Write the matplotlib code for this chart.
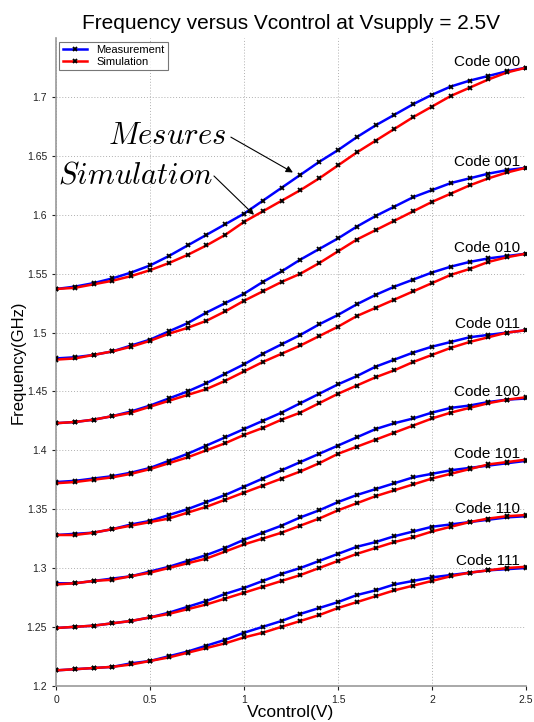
import numpy as np
import matplotlib
matplotlib.use("Agg")
import matplotlib.pyplot as plt

plt.rcParams['font.family'] = ['Liberation Sans', 'DejaVu Sans']
plt.rcParams['mathtext.fontset'] = 'cm'

# control voltage (V), one sample every 0.1 V
vcontrol = [0.0, 0.1, 0.2, 0.3, 0.4, 0.5, 0.6, 0.7, 0.8, 0.9, 1.0, 1.1, 1.2,
            1.3, 1.4, 1.5, 1.6, 1.7, 1.8, 1.9, 2.0, 2.1, 2.2, 2.3, 2.4, 2.5]

codes = ['000', '001', '010', '011', '100', '101', '110', '111']

# frequency (GHz), measured
meas_000 = [1.537, 1.539, 1.542, 1.546, 1.551, 1.557, 1.565, 1.574, 1.583, 1.592, 1.601, 1.612, 1.623,
            1.634, 1.645, 1.655, 1.666, 1.676, 1.685, 1.694, 1.702, 1.709, 1.714, 1.718, 1.722, 1.725]
meas_001 = [1.478, 1.479, 1.481, 1.484, 1.489, 1.494, 1.501, 1.508, 1.517, 1.525, 1.533, 1.543, 1.552,
            1.562, 1.571, 1.580, 1.590, 1.599, 1.607, 1.615, 1.621, 1.627, 1.631, 1.635, 1.638, 1.640]
meas_010 = [1.423, 1.424, 1.426, 1.429, 1.433, 1.438, 1.444, 1.450, 1.457, 1.465, 1.473, 1.482, 1.490,
            1.498, 1.507, 1.515, 1.524, 1.532, 1.539, 1.545, 1.551, 1.556, 1.560, 1.563, 1.565, 1.567]
meas_011 = [1.373, 1.374, 1.376, 1.378, 1.381, 1.385, 1.391, 1.397, 1.404, 1.411, 1.418, 1.425, 1.432,
            1.440, 1.448, 1.456, 1.463, 1.471, 1.477, 1.483, 1.488, 1.492, 1.496, 1.498, 1.500, 1.502]
meas_100 = [1.328, 1.329, 1.330, 1.333, 1.337, 1.340, 1.345, 1.350, 1.356, 1.362, 1.369, 1.376, 1.383,
            1.390, 1.397, 1.404, 1.411, 1.418, 1.423, 1.427, 1.432, 1.436, 1.438, 1.441, 1.443, 1.444]
meas_101 = [1.287, 1.287, 1.289, 1.291, 1.293, 1.297, 1.301, 1.306, 1.311, 1.317, 1.324, 1.330, 1.336,
            1.343, 1.349, 1.356, 1.362, 1.367, 1.372, 1.377, 1.380, 1.383, 1.385, 1.387, 1.389, 1.391]
meas_110 = [1.249, 1.250, 1.251, 1.253, 1.255, 1.258, 1.262, 1.267, 1.272, 1.278, 1.283, 1.289, 1.295,
            1.300, 1.306, 1.312, 1.318, 1.322, 1.327, 1.331, 1.335, 1.337, 1.339, 1.341, 1.343, 1.344]
meas_111 = [1.213, 1.214, 1.215, 1.216, 1.219, 1.221, 1.225, 1.229, 1.234, 1.239, 1.245, 1.250, 1.255,
            1.261, 1.266, 1.271, 1.277, 1.281, 1.286, 1.289, 1.292, 1.294, 1.296, 1.298, 1.299, 1.300]

# frequency (GHz), simulated
sim_000 = [1.537, 1.538, 1.541, 1.544, 1.548, 1.553, 1.559, 1.566, 1.574, 1.583, 1.594, 1.603, 1.612,
           1.621, 1.631, 1.642, 1.653, 1.663, 1.673, 1.683, 1.692, 1.701, 1.708, 1.715, 1.721, 1.725]
sim_001 = [1.477, 1.478, 1.481, 1.484, 1.488, 1.493, 1.499, 1.504, 1.510, 1.518, 1.527, 1.535, 1.543,
           1.550, 1.559, 1.569, 1.579, 1.587, 1.595, 1.603, 1.611, 1.618, 1.625, 1.631, 1.636, 1.640]
sim_010 = [1.423, 1.424, 1.426, 1.429, 1.432, 1.437, 1.442, 1.447, 1.452, 1.459, 1.467, 1.475, 1.482,
           1.489, 1.497, 1.505, 1.514, 1.521, 1.528, 1.535, 1.542, 1.549, 1.554, 1.560, 1.564, 1.567]
sim_011 = [1.372, 1.373, 1.375, 1.377, 1.380, 1.384, 1.389, 1.394, 1.400, 1.406, 1.413, 1.419, 1.426,
           1.432, 1.440, 1.448, 1.455, 1.462, 1.468, 1.475, 1.481, 1.487, 1.492, 1.496, 1.500, 1.502]
sim_100 = [1.328, 1.328, 1.330, 1.333, 1.336, 1.339, 1.342, 1.347, 1.352, 1.358, 1.364, 1.370, 1.376,
           1.382, 1.389, 1.397, 1.403, 1.409, 1.415, 1.421, 1.427, 1.432, 1.436, 1.440, 1.443, 1.445]
sim_101 = [1.286, 1.287, 1.289, 1.290, 1.293, 1.296, 1.300, 1.304, 1.308, 1.314, 1.320, 1.325, 1.330,
           1.336, 1.342, 1.349, 1.355, 1.361, 1.366, 1.371, 1.376, 1.380, 1.384, 1.388, 1.390, 1.392]
sim_110 = [1.249, 1.250, 1.251, 1.253, 1.255, 1.258, 1.261, 1.265, 1.269, 1.274, 1.279, 1.284, 1.289,
           1.294, 1.300, 1.306, 1.312, 1.317, 1.322, 1.326, 1.331, 1.335, 1.339, 1.342, 1.344, 1.345]
sim_111 = [1.213, 1.214, 1.215, 1.216, 1.218, 1.221, 1.224, 1.228, 1.232, 1.236, 1.241, 1.245, 1.250,
           1.255, 1.260, 1.266, 1.271, 1.276, 1.281, 1.285, 1.289, 1.293, 1.296, 1.298, 1.300, 1.301]

meas = [meas_000, meas_001, meas_010, meas_011, meas_100, meas_101, meas_110, meas_111]
sim = [sim_000, sim_001, sim_010, sim_011, sim_100, sim_101, sim_110, sim_111]

fig = plt.figure(figsize=(5.34, 7.22), dpi=100)
ax = fig.add_axes([0.105, 0.0503, 0.880, 0.8967])

for i in range(len(codes)):
    lm, = ax.plot(vcontrol, meas[i], color='#0000ff', lw=1.8, marker='x', ms=3.5,
                  mec='black', mew=1.3, zorder=3)
    ls, = ax.plot(vcontrol, sim[i], color='#ff0000', lw=1.8, marker='x', ms=3.5,
                  mec='black', mew=1.3, zorder=3)
    top = max(meas[i][-1], sim[i][-1])
    ax.text(vcontrol[-1] - 0.03, top + 0.0015, 'Code ' + codes[i], ha='right', va='baseline',
            fontsize=11)
    if i == 0:
        lm.set_label('Measurement')
        ls.set_label('Simulation')

ax.set_xlim(0, 2.5)
ax.set_ylim(1.2, 1.75)
ax.set_xticks([0, 0.5, 1, 1.5, 2, 2.5])
ax.set_xticklabels(['0', '0.5', '1', '1.5', '2', '2.5'])
ax.set_yticks([1.2, 1.25, 1.3, 1.35, 1.4, 1.45, 1.5, 1.55, 1.6, 1.65, 1.7])
ax.set_yticklabels(['1.2', '1.25', '1.3', '1.35', '1.4', '1.45', '1.5', '1.55', '1.6', '1.65', '1.7'])
ax.tick_params(labelsize=7.5, colors='#222222', length=3, width=0.8)
ax.grid(True, linestyle=(0, (1, 2)), color='#b0b0b0', lw=0.7)
ax.spines['top'].set_visible(False)
ax.spines['right'].set_visible(False)
ax.spines['left'].set_color('#999999')
ax.spines['bottom'].set_color('#999999')
ax.spines['left'].set_linewidth(1.2)
ax.spines['bottom'].set_linewidth(1.2)

ax.set_title('Frequency versus Vcontrol at Vsupply = 2.5V', fontsize=15, pad=7)
ax.set_xlabel('Vcontrol(V)', fontsize=12.5, labelpad=0)
ax.set_ylabel('Frequency(GHz)', fontsize=12, labelpad=1)

leg = ax.legend(loc='upper left', fontsize=8, frameon=True, fancybox=False,
                borderpad=0.3, handlelength=2.2, labelspacing=0.2, borderaxespad=0.3)
leg.get_frame().set_edgecolor('#555555')
leg.get_frame().set_linewidth(0.8)

arrow = dict(arrowstyle='-|>', color='black', lw=0.8, mutation_scale=10, shrinkA=0, shrinkB=0)
ax.text(0.59, 1.667, '$Mesures$', fontsize=22, ha='center', va='center')
ax.annotate('', xy=(1.26, 1.636), xytext=(0.93, 1.666), arrowprops=arrow)
ax.text(0.42, 1.633, '$Simulation$', fontsize=22, ha='center', va='center')
ax.annotate('', xy=(1.053, 1.600), xytext=(0.84, 1.633), arrowprops=arrow)

fig.savefig('out.png', dpi=100)
